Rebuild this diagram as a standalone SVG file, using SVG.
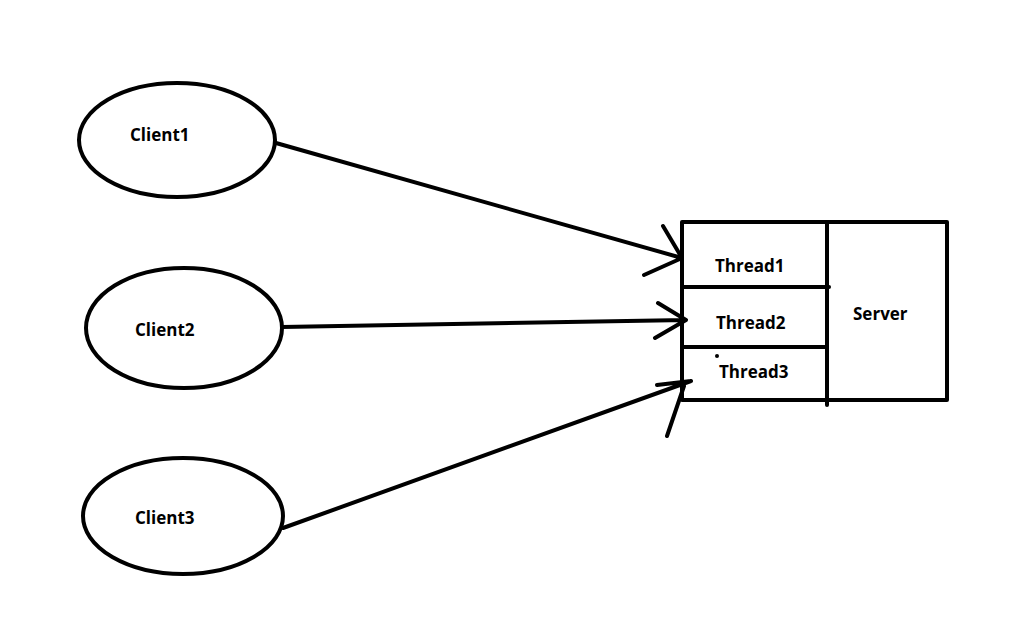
<svg xmlns="http://www.w3.org/2000/svg" width="1015" height="626" viewBox="0 0 1015 626">
<style>
.s{fill:none;stroke:#000;stroke-width:4;stroke-linecap:round;stroke-linejoin:round}
.t{font-family:"Open Sans","Liberation Sans",sans-serif;font-weight:bold;font-size:17px;fill:#000}
</style>
<rect width="1015" height="626" fill="#fff"/>
<g id="client1"><ellipse class="s" cx="177" cy="140" rx="98" ry="57"/><text class="t" x="130" y="141">Client1</text></g>
<g id="client2"><ellipse class="s" cx="184" cy="328" rx="98" ry="60"/><text class="t" x="135" y="336">Client2</text></g>
<g id="client3"><ellipse class="s" cx="183" cy="516" rx="100" ry="58"/><text class="t" x="135" y="524">Client3</text></g>
<g id="server">
<rect class="s" x="682" y="222" width="265" height="178" stroke-linecap="butt" stroke-linejoin="miter"/>
<line class="s" x1="827" y1="222" x2="827" y2="405"/>
<line class="s" x1="682" y1="287" x2="829" y2="287"/>
<line class="s" x1="682" y1="347" x2="826" y2="347"/>
<circle cx="717" cy="356" r="2" fill="#000"/>
<text class="t" x="715" y="272">Thread1</text>
<text class="t" x="716" y="329">Thread2</text>
<text class="t" x="719" y="378">Thread3</text>
<text class="t" x="853" y="320">Server</text>
</g>
<g id="connectors">
<path class="s" d="M276 143 L682 258 M663 226 L682 258 L644 275"/>
<path class="s" d="M282 327 L686 320 M658 303 L686 320 L655 338"/>
<path class="s" d="M283 528 L691 381 M657 385 L691 381 M684 386 L667 436"/>
</g>
</svg>
